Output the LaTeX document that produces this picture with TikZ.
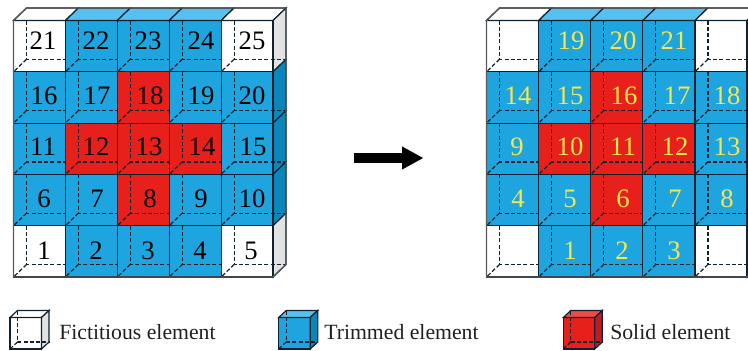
\documentclass[tikz,border=0pt]{standalone}
\usepackage{fontspec}
\setmainfont{Liberation Serif}
\usetikzlibrary{arrows.meta}
\definecolor{cW}{HTML}{FFFFFF}
\definecolor{cB}{HTML}{1EA4DE}
\definecolor{cR}{HTML}{E8201C}
\definecolor{tW}{HTML}{FFFFFF}
\definecolor{tB}{HTML}{58C0EE}
\definecolor{tR}{HTML}{EE4A48}
\definecolor{sW}{HTML}{E2E4E4}
\definecolor{sB}{HTML}{0A86BA}
\definecolor{sR}{HTML}{BE1C20}
\definecolor{edge}{HTML}{10222E}
\definecolor{outer}{HTML}{5A5A5A}
\definecolor{lab}{HTML}{231F20}
\definecolor{yel}{HTML}{F5E84E}
\tikzset{
  cellface/.style={draw=edge,line width=0.9pt,line join=miter},
  outline/.style={draw=outer,line width=1.1pt},
  hidden/.style={draw=edge,line width=0.9pt,dash pattern=on 3pt off 1.7pt},
  numk/.style={font=\fontsize{20}{22}\selectfont,text=black,inner sep=0pt},
  numy/.style={font=\fontsize{20}{22}\selectfont,text=yel,inner sep=0pt},
  legtext/.style={font=\fontsize{16.3}{19}\selectfont,text=lab,inner sep=0pt,anchor=west},
  bigarrow/.style={line width=8pt,draw=black,-{Triangle[length=16pt,width=16pt]}}
}
% #1 left x, #2 cell width
\newcommand{\cellgrid}[2]{%
  \foreach \rowlist [count=\r from 0] in {{W,B,B,B,W},{B,B,R,B,B},{B,R,R,R,B},{B,B,R,B,B},{W,B,B,B,W}}{%
    \foreach \t [count=\c from 0] in \rowlist {%
      \pgfmathsetmacro{\xa}{#1+\c*#2}%
      \pgfmathsetmacro{\ya}{20.5+\r*51.3}%
      \fill[c\t] (\xa,\ya) rectangle ++(#2,51.3);
      \ifnum\r=0
        \path[cellface,fill=t\t] (\xa,\ya) -- ++(13,-12.5) -- ++(#2,0) -- ++(-13,12.5) -- cycle;
      \fi
      \ifnum\c=4
        \path[cellface,fill=s\t] (\xa+#2,\ya) -- ++(13,-12.5) -- ++(0,51.3) -- ++(-13,12.5) -- cycle;
      \fi
    }%
  }%
  \foreach \r in {0,...,4}{%
    \foreach \c in {0,...,4}{%
      \pgfmathsetmacro{\xa}{#1+\c*#2}%
      \pgfmathsetmacro{\ya}{20.5+\r*51.3}%
      \pgfmathsetmacro{\xe}{\xa+#2+(\c==4 ? 13 : 0)}%
      \draw[hidden] (\xa+13,\ya) -- (\xa+13,\ya+38.8) -- (\xe,\ya+38.8);
      \draw[hidden] (\xa+13,\ya+38.8) -- (\xa,\ya+51.3);
      \draw[cellface] (\xa,\ya) rectangle ++(#2,51.3);
    }%
  }%
  \draw[outline] (#1,20.5+5*51.3) -- (#1,20.5) -- ++(13,-12.5) -- ++(5*#2,0) -- ++(0,256.5) -- ++(-13,12.5) -- cycle;
}
% #1 x, #2 y (front top-left), #3 letter
\newcommand{\legendcube}[3]{%
  \path[cellface,fill=c#3] (#1,#2) rectangle ++(31.5,31.5);
  \path[cellface,fill=t#3] (#1,#2) -- ++(7.5,-7) -- ++(31.5,0) -- ++(-7.5,7) -- cycle;
  \path[cellface,fill=s#3] (#1+31.5,#2) -- ++(7.5,-7) -- ++(0,31.5) -- ++(-7.5,7) -- cycle;
  \draw[hidden] (#1+7.5,#2-7) -- ++(0,31.5) -- ++(31.5,0);
  \draw[hidden] (#1+7.5,#2+24.5) -- (#1,#2+31.5);
}
\begin{document}
\begin{tikzpicture}[x=0.75pt,y=-0.75pt]
\path[use as bounding box,clip] (0,0) rectangle (748,350);
\cellgrid{13.5}{51.9}
\cellgrid{486.5}{52.1}
\foreach \x/\y/\t in {43/41/21,96/41/22,148/41/23,201/41/24,252/41/25,
  44/96/16,97/96/17,150/96/18,201/96/19,252/96/20,
  43/147/11,96/147/12,149/147/13,202/147/14,253/147/15,
  44/199/6,97/199/7,150/199/8,201/199/9,252/199/10,
  44/251/1,96/251/2,148/251/3,200/251/4,251/251/5}
  \node[numk] (L\t) at (\x,\y) {\t};
\foreach \x/\y/\t in {571/41/19,623/41/20,674/41/21,
  518/96/14,570/96/15,624/96/16,677/96/17,727/96/18,
  517/147/9,570/147/10,623/147/11,675/147/12,727/147/13,
  518/199/4,570/199/5,623/199/6,675/199/7,727/199/8,
  570/251/1,622/251/2,674/251/3}
  \node[numy] (R\t) at (\x,\y) {\t};
\coordinate (arrowtail) at (353.5,158);
\coordinate (arrowhead) at (423.5,158);
\draw[bigarrow] (arrowtail) -- (arrowhead);
\legendcube{10}{317.5}{W}
\legendcube{278.7}{317.5}{B}
\legendcube{563.3}{317.5}{R}
\node[legtext] (legF) at (59,332) {Fictitious element};
\node[legtext] (legT) at (324,332) {Trimmed element};
\node[legtext] (legS) at (610,332) {Solid element};
\end{tikzpicture}
\end{document}
